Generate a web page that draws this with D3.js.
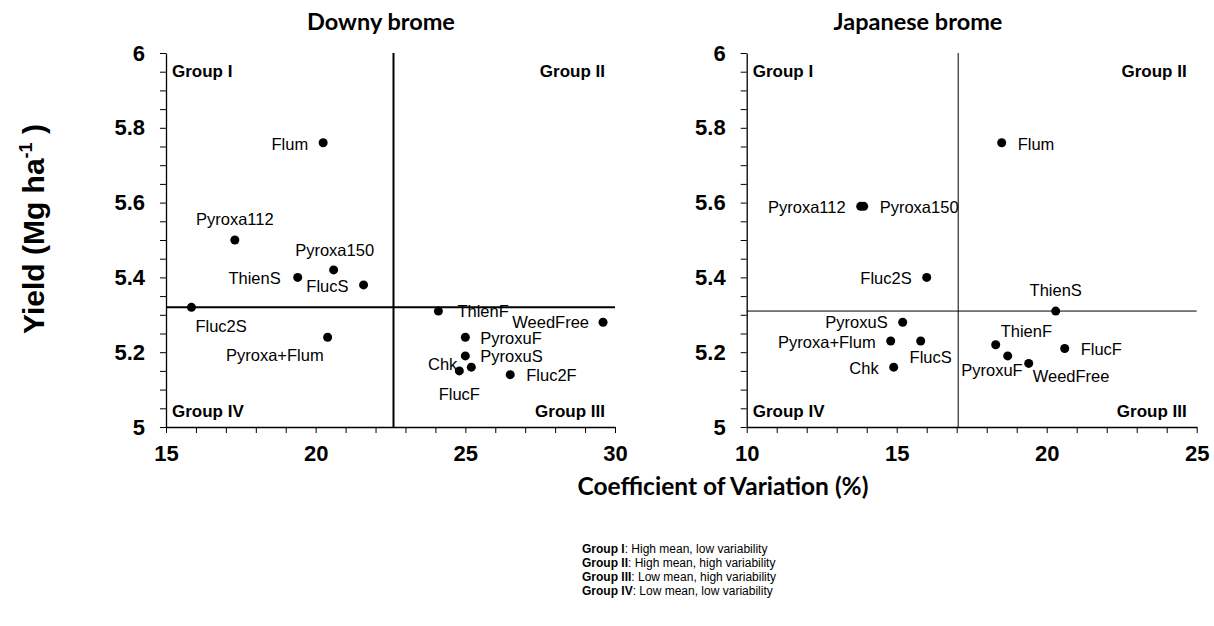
<!DOCTYPE html>
<html>
<head>
<meta charset="utf-8">
<script src="https://cdn.jsdelivr.net/npm/d3@7"></script>
<style>
  html, body { margin: 0; padding: 0; background: #fff; }
  svg { display: block; }
</style>
</head>
<body>
<svg id="chart" width="1214" height="626"></svg>
<script>
// ---- Downy brome: treatment, coefficient of variation (%), yield (Mg/ha)
const downyTreatments = ["Flum", "Pyroxa112", "Pyroxa150", "ThienS", "FlucS", "Fluc2S", "Pyroxa+Flum",
                         "ThienF", "WeedFree", "PyroxuF", "PyroxuS", "Chk", "FlucF", "Fluc2F"];
const downyCV    = [20.25, 17.3, 20.6, 19.4, 21.6, 15.85, 20.4, 24.1, 29.6, 25.0, 25.0, 24.8, 25.2, 26.5];
const downyYield = [5.76, 5.50, 5.42, 5.40, 5.38, 5.32, 5.24, 5.31, 5.28, 5.24, 5.19, 5.15, 5.16, 5.14];
const downyMeanCV = 22.6;
const downyMeanYield = 5.32;

// ---- Japanese brome
const japTreatments = ["Flum", "Pyroxa112", "Pyroxa150", "Fluc2S", "ThienS", "PyroxuS", "Pyroxa+Flum",
                       "FlucS", "Chk", "ThienF", "PyroxuF", "WeedFree", "FlucF"];
const japCV    = [18.5, 13.8, 13.9, 16.0, 20.3, 15.2, 14.8, 15.8, 14.9, 18.3, 18.7, 19.4, 20.6];
const japYield = [5.76, 5.59, 5.59, 5.40, 5.31, 5.28, 5.23, 5.23, 5.16, 5.22, 5.19, 5.17, 5.21];
const japMeanCV = 17.05;
const japMeanYield = 5.31;

// ---- Axis ticks
const downyXDomain = [15, 30];
const japXDomain = [10, 25];
const yDomain = [5, 6];
const quadrantNames = ["Group I", "Group II", "Group III", "Group IV"];
const legendText = [": High mean, low variability", ": High mean, high variability",
                    ": Low mean, high variability", ": Low mean, low variability"];

// ---- Label placement around each point: [dx, dy, anchor]
const downyLabelPos = {
  "Flum": [-15, 7, "end"], "Pyroxa112": [0, -15, "middle"], "Pyroxa150": [1, -14, "middle"],
  "ThienS": [-17, 7, "end"], "FlucS": [-15, 7, "end"], "Fluc2S": [4, 25, "start"],
  "Pyroxa+Flum": [-4, 24, "end"], "ThienF": [19, 6, "start"], "WeedFree": [-14, 6, "end"],
  "PyroxuF": [15, 7, "start"], "PyroxuS": [15, 6, "start"], "Chk": [-2, -1, "end"],
  "FlucF": [-12, 33, "middle"], "Fluc2F": [16, 6, "start"]
};
const japLabelPos = {
  "Flum": [16, 7, "start"], "Pyroxa112": [-15, 7, "end"], "Pyroxa150": [16, 7, "start"],
  "Fluc2S": [-15, 7, "end"], "ThienS": [0, -15, "middle"], "PyroxuS": [-15, 6, "end"],
  "Pyroxa+Flum": [-15, 7, "end"], "FlucS": [10, 22, "middle"], "Chk": [-15, 7, "end"],
  "ThienF": [5, -8, "start"], "PyroxuF": [15, 20, "end"], "WeedFree": [4, 19, "start"],
  "FlucF": [16, 7, "start"]
};

const svg = d3.select("#chart");
const sansFont = "'Liberation Sans', Arial, sans-serif";
const titleFont = "Lato, 'Open Sans', sans-serif";

const plotTop = 53, plotBottom = 427;

function panel(opts) {
  const x = d3.scaleLinear().domain(opts.xDomain).range([opts.left, opts.right]);
  const y = d3.scaleLinear().domain(yDomain).range([plotBottom, plotTop]);
  const g = svg.append("g");

  // x axis: minor every 1, labelled every 5
  const xTicks = d3.range(opts.xDomain[0], opts.xDomain[1] + 0.001, 1);
  const xAxis = d3.axisBottom(x).tickValues(xTicks).tickSize(6).tickSizeOuter(0).tickPadding(12)
    .tickFormat(d => (Math.round(d) % 5 === 0 ? d3.format("d")(d) : ""));
  const gx = g.append("g").attr("transform", `translate(0,${plotBottom})`).call(xAxis);

  // y axis: minor every 0.05, labelled every 0.2
  const yTicks = d3.range(0, 21).map(i => yDomain[0] + i * 0.05);
  const yAxis = d3.axisLeft(y).tickValues(yTicks).tickSize(6).tickSizeOuter(0).tickPadding(15)
    .tickFormat(d => {
      const k = Math.round((d - yDomain[0]) / 0.05);
      return k % 4 === 0 ? d3.format("~g")(+d.toFixed(2)) : "";
    });
  const gy = g.append("g").attr("transform", `translate(${opts.left},0)`).call(yAxis);

  [gx, gy].forEach(a => {
    a.selectAll("path.domain").attr("stroke", "#000").attr("stroke-width", 1.3);
    a.selectAll(".tick line").attr("stroke", "#000").attr("stroke-width", 1);
    a.selectAll(".tick text").attr("fill", "#000")
      .style("font-family", sansFont).style("font-weight", "bold").style("font-size", "22px");
  });

  // mean reference lines dividing the four groups
  g.append("line")
    .attr("x1", x(opts.meanCV)).attr("x2", x(opts.meanCV))
    .attr("y1", y(yDomain[1])).attr("y2", y(yDomain[0]))
    .attr("stroke", "#000").attr("stroke-width", opts.refWidth);
  g.append("line")
    .attr("x1", x(opts.xDomain[0])).attr("x2", x(opts.xDomain[1]))
    .attr("y1", y(opts.meanYield)).attr("y2", y(opts.meanYield))
    .attr("stroke", "#000").attr("stroke-width", opts.refWidth);

  // quadrant names
  const qs = g.append("g").style("font-family", sansFont).style("font-weight", "bold")
    .style("font-size", "17px").attr("fill", "#000");
  const xl = x(opts.xDomain[0]) + 6, xr = x(opts.xDomain[1]) - 10;
  qs.append("text").attr("x", xl).attr("y", plotTop + 24).text(quadrantNames[0]);
  qs.append("text").attr("x", xr).attr("y", plotTop + 24).attr("text-anchor", "end").text(quadrantNames[1]);
  qs.append("text").attr("x", xr).attr("y", plotBottom - 10).attr("text-anchor", "end").text(quadrantNames[2]);
  qs.append("text").attr("x", xl).attr("y", plotBottom - 10).text(quadrantNames[3]);

  // points
  const pts = opts.names.map((n, i) => ({ name: n, cv: opts.cv[i], yld: opts.yld[i] }));
  g.append("g").selectAll("circle").data(pts).join("circle")
    .attr("cx", d => x(d.cv)).attr("cy", d => y(d.yld)).attr("r", 4.5).attr("fill", "#000");

  // point labels
  g.append("g").style("font-family", sansFont).style("font-size", "16.5px")
    .selectAll("text").data(pts).join("text")
    .attr("x", d => x(d.cv) + opts.labelPos[d.name][0])
    .attr("y", d => y(d.yld) + opts.labelPos[d.name][1])
    .attr("text-anchor", d => opts.labelPos[d.name][2])
    .attr("fill", "#000")
    .text(d => d.name);

  // panel title
  svg.append("text").attr("x", opts.titleX).attr("y", 30).attr("text-anchor", "middle")
    .style("font-family", titleFont).style("font-weight", "bold").style("font-size", "23.5px")
    .attr("fill", "#000").text(opts.title);
}

panel({
  title: "Downy brome", titleX: 381,
  left: 166, right: 615, xDomain: downyXDomain,
  names: downyTreatments, cv: downyCV, yld: downyYield,
  meanCV: downyMeanCV, meanYield: downyMeanYield, refWidth: 2,
  labelPos: downyLabelPos
});
panel({
  title: "Japanese brome", titleX: 918,
  left: 746.7, right: 1196.7, xDomain: japXDomain,
  names: japTreatments, cv: japCV, yld: japYield,
  meanCV: japMeanCV, meanYield: japMeanYield, refWidth: 1,
  labelPos: japLabelPos
});

// y axis title with superscript
const yt = svg.append("text")
  .attr("transform", "translate(44,229) rotate(-90)")
  .attr("text-anchor", "middle")
  .style("font-family", sansFont).style("font-weight", "bold").style("font-size", "30px")
  .attr("fill", "#000");
yt.append("tspan").text("Yield (Mg ha");
yt.append("tspan").attr("dy", -12).style("font-size", "18px").text("-1");
yt.append("tspan").attr("dy", 12).text(" )");

// x axis title
svg.append("text").attr("x", 723).attr("y", 495).attr("text-anchor", "middle")
  .style("font-family", titleFont).style("font-weight", "bold").style("font-size", "24.5px")
  .attr("fill", "#000").text("Coefficient of Variation (%)");

// group legend
const lg = svg.append("g").style("font-family", sansFont).style("font-size", "12px").attr("fill", "#000");
quadrantNames.forEach((q, i) => {
  const t = lg.append("text").attr("x", 582).attr("y", 553 + i * 14);
  t.append("tspan").style("font-weight", "bold").text(q);
  t.append("tspan").text(legendText[i]);
});
</script>
</body>
</html>
